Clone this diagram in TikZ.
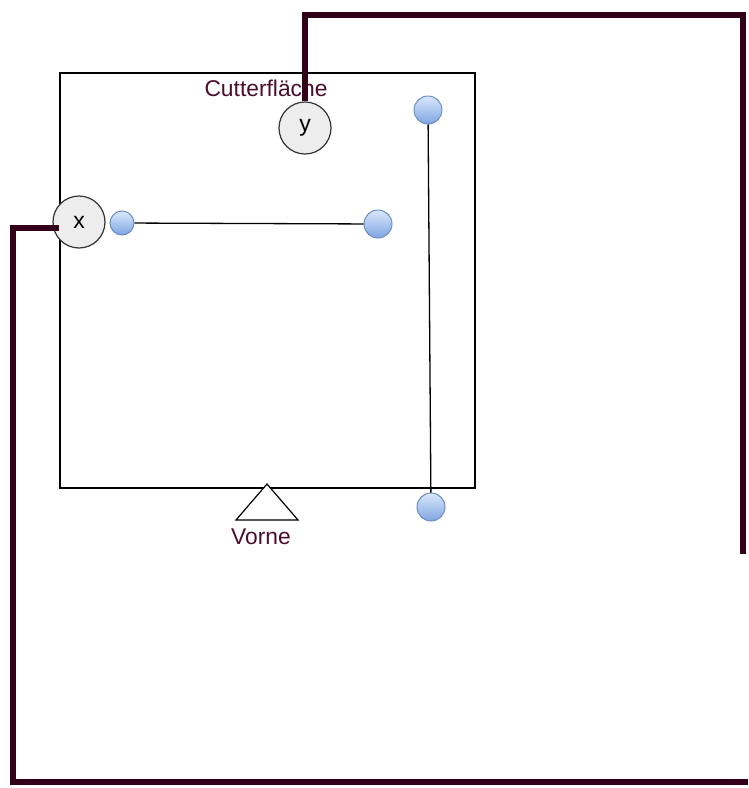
\documentclass[tikz,border=0pt]{standalone}
\usepackage{fontspec}
\setmainfont{Liberation Sans}
\definecolor{cablecol}{HTML}{33001A}
\definecolor{labelcol}{HTML}{4A0D2C}
\definecolor{knobtop}{HTML}{DAE8FC}
\definecolor{knobbot}{HTML}{7EA6E0}
\definecolor{knobline}{HTML}{6C8EBF}
\tikzset{
  axis/.style={circle,draw=black!80,fill=black!7,line width=1.2pt,minimum size=52pt,inner sep=0pt,font=\fontsize{23}{27}\selectfont},
  knob/.style={circle,draw=knobline,line width=1pt,top color=knobtop,bottom color=knobbot,minimum size=28pt,inner sep=0pt},
  cable/.style={cablecol,line width=6.5pt},
  tag/.style={text=labelcol,font=\fontsize{22.8}{27}\selectfont,inner sep=0pt}
}
\begin{document}
\begin{tikzpicture}[x=1pt,y=-1pt]
\useasboundingbox (0,0) rectangle (748,788);
% Cutter area
\draw[line width=1.2pt] (60,73) rectangle (475,488);
\node[tag] (area) at (266,88) {Cutterfläche};

% Front mark
\draw[line width=1.2pt,fill=white] (267,484) -- (298,520) -- (236,520) -- cycle;
\node[tag] (front) at (261,537) {Vorne};

% Axes
\node[axis] (y) at (305,128) {y};
\node[axis] (x) at (79,222) {x};

% Guide rails
\node[knob,minimum size=24pt] (xa) at (122,223) {};
\node[knob] (xb) at (378,224) {};
\node[knob] (ya) at (428,110) {};
\node[knob] (yb) at (431,507) {};
\draw[line width=1.3pt] (xa) -- (xb);
\draw[line width=1.3pt] (ya) -- (yb);

% Cables
\coordinate (ycorner) at (743,15);
\coordinate (yend) at (743,554);
\draw[cable] (y.north) |- (ycorner) -- (yend);
\coordinate (xcorner) at (13,782);
\coordinate (xend) at (748,782);
\draw[cable] ([shift={(7pt,-6pt)}]x.west) -| (xcorner) -- (xend);
\end{tikzpicture}
\end{document}
